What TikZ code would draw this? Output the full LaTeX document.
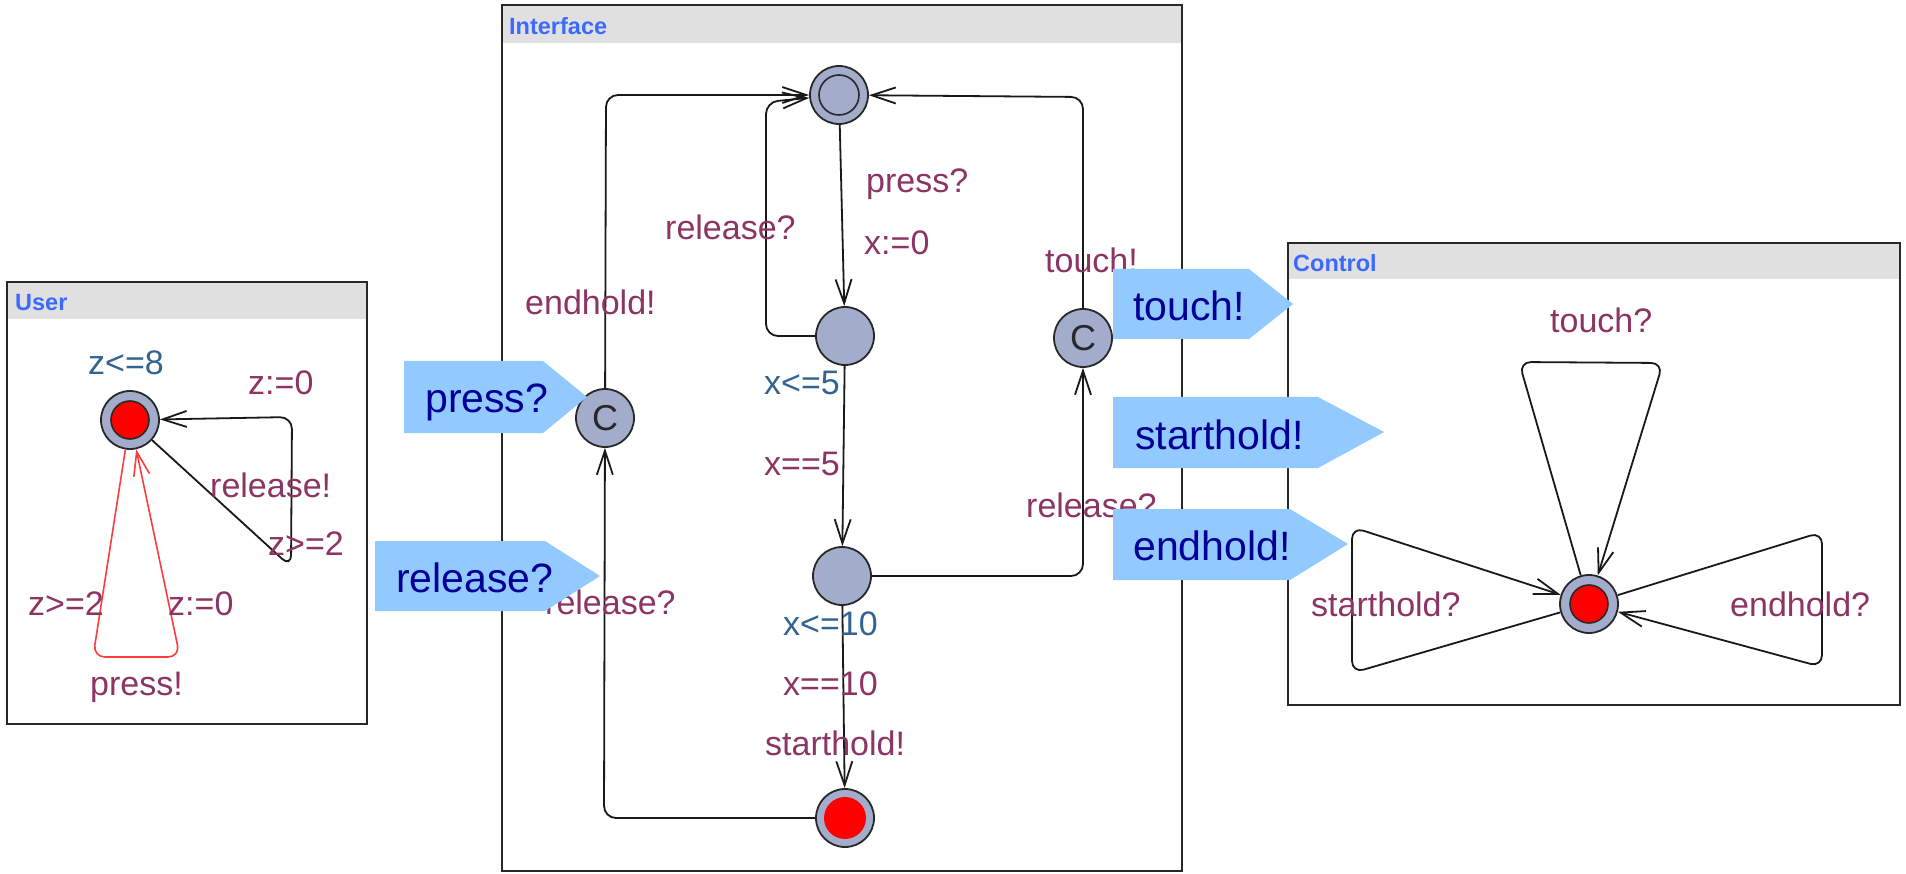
\documentclass[tikz,border=0pt]{standalone}
\usepackage{fontspec}
\setmainfont{Liberation Sans}
\usetikzlibrary{arrows.meta}
\definecolor{locfill}{RGB}{164,172,204}
\definecolor{locline}{RGB}{40,40,40}
\definecolor{edgec}{RGB}{25,25,25}
\definecolor{redc}{RGB}{255,60,60}
\definecolor{curred}{RGB}{255,0,0}
\definecolor{lblc}{RGB}{140,52,100}
\definecolor{invc}{RGB}{50,100,145}
\definecolor{hdrc}{RGB}{60,105,255}
\definecolor{hbarc}{RGB}{224,224,224}
\definecolor{boxc}{RGB}{40,40,40}
\definecolor{callfill}{RGB}{146,201,255}
\definecolor{calltxt}{RGB}{0,0,150}
\begin{document}
\begin{tikzpicture}[x=1pt,y=-1pt,
  loc/.style={circle, draw=locline, fill=locfill, line width=1.8pt, minimum size=58pt, inner sep=0pt},
  edge/.style={draw=edgec, line width=1.8pt, rounded corners=12pt, -{Straight Barb[length=24pt,width=16pt]}},
  redge/.style={edge, draw=redc, line width=1.6pt},
  lbl/.style={font=\fontsize{34}{40}\selectfont, text=lblc, anchor=base west, inner sep=0pt},
  inv/.style={lbl, text=invc},
  hdr/.style={font=\bfseries\fontsize{23.5}{28}\selectfont, text=hdrc, anchor=base west, inner sep=0pt},
  box/.style={draw=boxc, line width=1.8pt, fill=white},
  hbar/.style={fill=hbarc},
  callout/.style={fill=callfill},
  calltext/.style={font=\fontsize{41}{48}\selectfont, text=calltxt, anchor=base west, inner sep=0pt},
  cmark/.style={font=\fontsize{36}{40}\selectfont, text=locline, inner sep=0pt}
]
\useasboundingbox (0,0) rectangle (1906,874);
% boxes
\draw[box] (7,282) rectangle (367,724);
\fill[hbar] (8,283) rectangle (366,319);
\draw[box] (502,5) rectangle (1182,871);
\fill[hbar] (503,6) rectangle (1181,43);
\draw[box] (1288,243) rectangle (1900,705);
\fill[hbar] (1289,244) rectangle (1899,279);
\node[hdr] (hu) at (15,311) {User};
\node[hdr] (hi) at (509,35) {Interface};
\node[hdr] (hk) at (1293,272) {Control};
% locations
\node[loc] (U) at (130,420) {};
\node[loc] (L0) at (839,95) {};
\node[loc] (L1) at (845,336) {};
\node[loc] (Cl) at (605,418) {};
\node[loc] (Cr) at (1083,338) {};
\node[loc] (L2) at (842,576) {};
\node[loc] (L3) at (845,818) {};
\node[loc] (K) at (1589,604) {};
\filldraw[fill=curred, draw=locline, line width=1.6pt] (U.center) circle[radius=19];
\draw[draw=locline, line width=1.6pt] (L0.center) circle[radius=20];
\fill[curred] (L3.center) circle[radius=21];
\filldraw[fill=curred, draw=locline, line width=1.6pt] (K.center) circle[radius=19];
\node[cmark] (ClC) at (Cl.center) {C};
\node[cmark] (CrC) at (Cr.center) {C};
% User edges
\draw[edge] (U) -- (291,567) -- (292,417) -- (U);
\draw[redge] (U) -- (93,657) -- (180,657) -- (U);
% Interface edges
\draw[edge] (L0) -- (L1);
\draw[edge] (L1) -- (766,336) -- (766,102) -- (L0);
\draw[edge] (Cl) -- (606,95) -- (L0);
\draw[edge] (L3) -- (604,818) -- (Cl);
\draw[edge] (L1) -- (L2);
\draw[edge] (L2) -- (L3);
\draw[edge] (L2) -- (1083,576) -- (Cr);
\draw[edge] (Cr) -- (1083,97) -- (L0);
% Control edges
\draw[edge] (K) -- (1519,362) -- (1663,363) -- (K);
\draw[edge] (K) -- (1352,673) -- (1352,527) -- (K);
\draw[edge] (K) -- (1822,532) -- (1822,667) -- (K);
% User labels
\node[inv] (uinv) at (88,375) {z<=8};
\node[lbl] (ua1) at (248,395) {z:=0};
\node[lbl] (us1) at (210,497) {release!};
\node[lbl] (ug1) at (268,555) {z>=2};
\node[lbl] (ug2) at (28,615) {z>=2};
\node[lbl] (ua2) at (168,615) {z:=0};
\node[lbl] (us2) at (90,695) {press!};
% Interface labels
\node[lbl] (ip) at (866,193) {press?};
\node[lbl] (ix0) at (864,255) {x:=0};
\node[lbl] (ir1) at (665,240) {release?};
\node[lbl] (ie) at (525,315) {endhold!};
\node[lbl] (it) at (1045,273) {touch!};
\node[inv] (iinv5) at (764,395) {x<=5};
\node[lbl] (ig5) at (764,475) {x==5};
\node[lbl] (ir2) at (545,614) {release?};
\node[lbl] (ir3) at (1026,517) {release?};
\node[inv] (iinv10) at (783,635) {x<=10};
\node[lbl] (ig10) at (783,695) {x==10};
\node[lbl] (is) at (765,755) {starthold!};
% Control labels
\node[lbl] (kt) at (1550,333) {touch?};
\node[lbl] (ks) at (1311,616) {starthold?};
\node[lbl] (ke) at (1730,616) {endhold?};
% callouts
\fill[callout] (404,361) -- (543,361) -- (587,397) -- (543,433) -- (404,433) -- cycle;
\node[calltext] (cp) at (425,413) {press?};
\fill[callout] (375,541) -- (545,541) -- (600,576) -- (545,611) -- (375,611) -- cycle;
\node[calltext] (cr) at (396,592) {release?};
\fill[callout] (1113,269) -- (1249,269) -- (1293,304) -- (1249,339) -- (1113,339) -- cycle;
\node[calltext] (ct) at (1133,321) {touch!};
\fill[callout] (1113,397) -- (1318,397) -- (1384,432) -- (1318,468) -- (1113,468) -- cycle;
\node[calltext] (cs) at (1135,449) {starthold!};
\fill[callout] (1113,509) -- (1290,509) -- (1348,544) -- (1290,580) -- (1113,580) -- cycle;
\node[calltext] (ce) at (1133,560) {endhold!};
\end{tikzpicture}
\end{document}
